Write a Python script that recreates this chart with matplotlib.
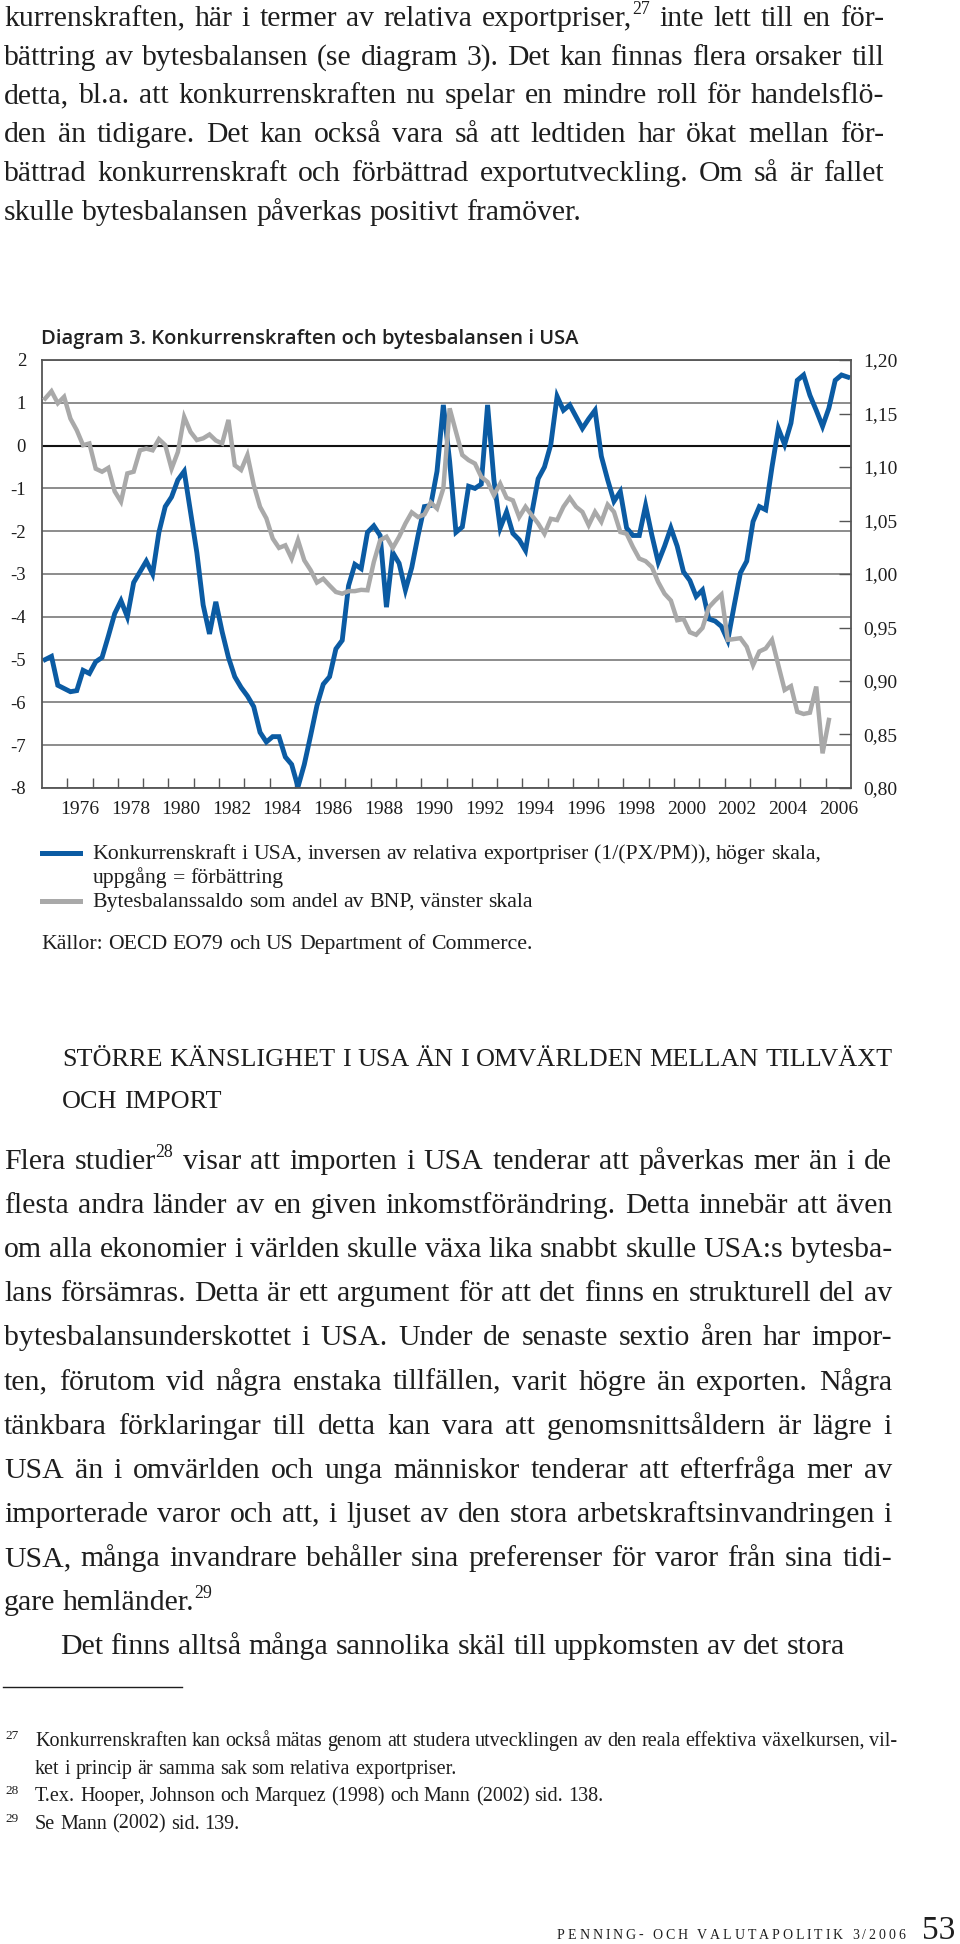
"""
Page 53 de Penning- och valutapolitik 3/2006 : texte courant et
diagramme 3 (konkurrenskraft et bytesbalans aux USA).
"""

import matplotlib

matplotlib.use("Agg")
import matplotlib.pyplot as plt
import numpy as np
import pandas as pd
from matplotlib.lines import Line2D
from matplotlib.ticker import FuncFormatter

# Données trimestrielles lues sur le diagramme
# Konkurrenskraft i USA (1/(PX/PM)), échelle de droite, 1975T1 - 2006T4
konkurrenskraft = [
    0.920, 0.923, 0.896, 0.893, 0.890, 0.891, 0.910, 0.907, 0.918, 0.922,
    0.942, 0.963, 0.975, 0.960, 0.992, 1.002, 1.012, 1.000, 1.039, 1.063,
    1.072, 1.088, 1.096, 1.058, 1.020, 0.971, 0.944, 0.974, 0.946, 0.922,
    0.904, 0.894, 0.886, 0.876, 0.852, 0.843, 0.848, 0.848, 0.829, 0.822,
    0.801, 0.822, 0.849, 0.877, 0.897, 0.904, 0.930, 0.938, 0.989, 1.009,
    1.005, 1.039, 1.045, 1.036, 0.969, 1.020, 1.010, 0.985, 1.006, 1.036,
    1.063, 1.064, 1.096, 1.158, 1.105, 1.039, 1.044, 1.082, 1.080, 1.084,
    1.158, 1.088, 1.043, 1.058, 1.038, 1.032, 1.022, 1.057, 1.089, 1.100,
    1.121, 1.166, 1.153, 1.158, 1.147, 1.136, 1.145, 1.153, 1.110, 1.088,
    1.068, 1.077, 1.043, 1.036, 1.036, 1.064, 1.036, 1.011, 1.026, 1.043,
    1.026, 1.002, 0.994, 0.979, 0.985, 0.958, 0.956, 0.951, 0.938, 0.970,
    1.001, 1.012, 1.049, 1.063, 1.060, 1.100, 1.136, 1.121, 1.141, 1.181,
    1.186, 1.167, 1.153, 1.138, 1.155, 1.181, 1.186, 1.184,
]
# Bytesbalanssaldo, % av BNP, échelle de gauche, 1975T1 - 2006T1
bytesbalans = [
    1.10, 1.27, 0.99, 1.14, 0.63, 0.36, 0.01, 0.05, -0.54, -0.61,
    -0.52, -1.07, -1.31, -0.65, -0.61, -0.11, -0.07, -0.11, 0.15, 0.01,
    -0.54, -0.15, 0.67, 0.32, 0.13, 0.17, 0.26, 0.12, 0.05, 0.60,
    -0.46, -0.57, -0.22, -0.92, -1.43, -1.70, -2.17, -2.39, -2.33, -2.64,
    -2.21, -2.68, -2.91, -3.20, -3.11, -3.27, -3.42, -3.46, -3.40, -3.40,
    -3.37, -3.38, -2.72, -2.21, -2.13, -2.39, -2.13, -1.82, -1.56, -1.67,
    -1.61, -1.33, -1.47, -1.00, 0.87, 0.32, -0.22, -0.34, -0.42, -0.73,
    -0.85, -1.16, -0.89, -1.22, -1.28, -1.67, -1.43, -1.63, -1.82, -2.06,
    -1.71, -1.74, -1.43, -1.22, -1.43, -1.55, -1.86, -1.55, -1.78, -1.38,
    -1.55, -2.02, -2.06, -2.37, -2.64, -2.70, -2.84, -3.19, -3.46, -3.62,
    -4.08, -4.05, -4.36, -4.42, -4.26, -3.78, -3.62, -3.48, -4.54, -4.52,
    -4.50, -4.70, -5.13, -4.81, -4.74, -4.54, -5.13, -5.71, -5.62, -6.22,
    -6.27, -6.24, -5.63, -7.19, -6.41,
]

graduations_gauche = [2, 1, 0, -1, -2, -3, -4, -5, -6, -7, -8]
graduations_droite = [1.20, 1.15, 1.10, 1.05, 1.00, 0.95, 0.90, 0.85, 0.80]
annees_ticks = list(range(1976, 2007))
annees_etiquettes = [1976, 1978, 1980, 1982, 1984, 1986, 1988, 1990,
                     1992, 1994, 1996, 1998, 2000, 2002, 2004, 2006]

titre = "Diagram 3. Konkurrenskraften och bytesbalansen i USA"
legende_bleu = ["Konkurrenskraft i USA, inversen av relativa exportpriser (1/(PX/PM)), höger skala,",
                "uppgång = förbättring"]
legende_gris = "Bytesbalanssaldo som andel av BNP, vänster skala"
sources = "Källor: OECD EO79 och US Department of Commerce."

paragraphe_haut = [
    "kurrenskraften, här i termer av relativa exportpriser,^27 inte lett till en för-",
    "bättring av bytesbalansen (se diagram 3). Det kan finnas flera orsaker till",
    "detta, bl.a. att konkurrenskraften nu spelar en mindre roll för handelsflö-",
    "den än tidigare. Det kan också vara så att ledtiden har ökat mellan för-",
    "bättrad konkurrenskraft och förbättrad exportutveckling. Om så är fallet",
    "skulle bytesbalansen påverkas positivt framöver.",
]
intertitre = ["STÖRRE KÄNSLIGHET I USA ÄN I OMVÄRLDEN MELLAN TILLVÄXT", "OCH IMPORT"]
paragraphe_bas = [
    "Flera studier^28 visar att importen i USA tenderar att påverkas mer än i de",
    "flesta andra länder av en given inkomstförändring. Detta innebär att även",
    "om alla ekonomier i världen skulle växa lika snabbt skulle USA:s bytesba-",
    "lans försämras. Detta är ett argument för att det finns en strukturell del av",
    "bytesbalansunderskottet i USA. Under de senaste sextio åren har impor-",
    "ten, förutom vid några enstaka tillfällen, varit högre än exporten. Några",
    "tänkbara förklaringar till detta kan vara att genomsnittsåldern är lägre i",
    "USA än i omvärlden och unga människor tenderar att efterfråga mer av",
    "importerade varor och att, i ljuset av den stora arbetskraftsinvandringen i",
    "USA, många invandrare behåller sina preferenser för varor från sina tidi-",
    "gare hemländer.^29",
]
derniere_ligne = "Det finns alltså många sannolika skäl till uppkomsten av det stora"
notes = [
    ("27", ["Konkurrenskraften kan också mätas genom att studera utvecklingen av den reala effektiva växelkursen, vil-",
            "ket i princip är samma sak som relativa exportpriser."]),
    ("28", ["T.ex. Hooper, Johnson och Marquez (1998) och Mann (2002) sid. 138."]),
    ("29", ["Se Mann (2002) sid. 139."]),
]
pied = "PENNING- OCH VALUTAPOLITIK 3/2006"
numero_page = "53"

BLEU = "#0b5ba3"
GRIS = "#a9a9a9"
NOIR = "#1e1e1e"
CADRE = "#555555"

plt.rcParams["font.family"] = ["Liberation Serif", "DejaVu Serif"]
plt.rcParams["axes.unicode_minus"] = False

L, H, DPI = 960, 1944, 100
fig = plt.figure(figsize=(L / DPI, H / DPI), dpi=DPI)
renderer = fig.canvas.get_renderer()


def largeur(txt, taille, **kw):
    """Largeur en pixels d'un texte (les espaces valent 0,25 em)."""
    if txt.strip() == "":
        return 0.25 * taille * DPI / 72 * len(txt)
    t = fig.text(0, 0, txt, fontsize=taille, **kw)
    w = t.get_window_extent(renderer).width
    t.remove()
    return w


def ligne(x0, y, texte, taille, x1=None, **kw):
    """Écrit une ligne (justifiée si x1 est donné); '^' marque un exposant."""
    mots = []
    for m in texte.split(" "):
        if "^" in m:
            base, sup = m.split("^")
            morceaux = [(base, taille, 0.0), (sup, taille * 0.6, taille * 0.4 * DPI / 72)]
        else:
            morceaux = [(m, taille, 0.0)]
        mots.append([(s, t, dy, largeur(s, t, **kw)) for s, t, dy in morceaux if s])
    total = sum(m[3] for mot in mots for m in mot)
    esp = 0.25 * taille * DPI / 72
    if x1 is not None and len(mots) > 1:
        esp = (x1 - x0 - total) / (len(mots) - 1)
    x = x0
    for mot in mots:
        for s, t, dy, w in mot:
            fig.text(x / L, 1 - (y - dy) / H, s, fontsize=t, va="baseline",
                     ha="left", color=NOIR, **kw)
            x += w
        x += esp


def texte_espace(x0, x1, y, texte, taille):
    """Texte à lettres espacées entre x0 et x1."""
    largeurs = [largeur(c, taille) for c in texte]
    pas = (x1 - x0 - sum(largeurs)) / (len(texte) - 1)
    x = x0
    for c, w in zip(texte, largeurs):
        if c != " ":
            fig.text(x / L, 1 - y / H, c, fontsize=taille, va="baseline",
                     ha="left", color=NOIR)
        x += w + pas


# Texte du haut
for i, l in enumerate(paragraphe_haut):
    fin = 884 if i < len(paragraphe_haut) - 1 else None
    ligne(4, 26 + i * 38.7, l, 21.3, fin)

# Diagramme
fig.text(41 / L, 1 - 344 / H, titre, fontsize=14.5, fontfamily=["Open Sans", "DejaVu Sans"],
         fontweight="semibold", color="#222222", va="baseline")

ax = fig.add_axes([42 / L, 1 - 788 / H, (851 - 42) / L, (788 - 360) / H])
ax2 = ax.twinx()

kv_bleu = pd.period_range("1975Q1", periods=len(konkurrenskraft), freq="Q")
kv_gris = pd.period_range("1975Q1", periods=len(bytesbalans), freq="Q")
t_bleu = kv_bleu.year + (kv_bleu.quarter - 0.5) / 4
t_gris = kv_gris.year + (kv_gris.quarter - 0.5) / 4

# la courbe bleue suit l'échelle de droite mais reste sous la grise
ax.plot(t_bleu, konkurrenskraft, color=BLEU, lw=3.5, transform=ax2.transData,
        solid_joinstyle="miter", zorder=2)
ax.plot(t_gris, bytesbalans, color=GRIS, lw=3.2, solid_joinstyle="miter", zorder=3)
ax.axhline(0, color="#111111", lw=1.5, zorder=1.5)

ax.set_xlim(1975, 2007)
ax.set_ylim(-8, 2)
ax2.set_ylim(0.80, 1.20)

ax.set_yticks(graduations_gauche)
ax.yaxis.grid(True, color="#6e6e6e", lw=1.1)
ax.set_axisbelow(True)
ax.tick_params(axis="y", length=0, pad=11.5, labelsize=13.5, labelcolor=NOIR)

ax.set_xticks(annees_ticks)
ax.set_xticklabels([])
ax.set_xticks([a + 0.5 for a in annees_etiquettes], minor=True,
              labels=[str(a) for a in annees_etiquettes])
ax.tick_params(axis="x", which="major", direction="in", length=7.2, width=1, color=CADRE)
ax.tick_params(axis="x", which="minor", length=0, pad=9, labelsize=14, labelcolor=NOIR)

ax2.set_yticks(graduations_droite)
ax2.yaxis.set_major_formatter(FuncFormatter(lambda v, p: f"{v:.2f}".replace(".", ",")))
ax2.tick_params(axis="y", direction="in", length=9, width=1, color=CADRE, pad=8.5,
                labelsize=14, labelcolor=NOIR)

for s in ax.spines.values():
    s.set_color(CADRE)
    s.set_linewidth(1.3)
for s in ax2.spines.values():
    s.set_visible(False)

# Légende et sources
fig.add_artist(Line2D([42 / L, 80 / L], [1 - 853 / H] * 2, color=BLEU, lw=3.6))
fig.add_artist(Line2D([42 / L, 80 / L], [1 - 901 / H] * 2, color=GRIS, lw=3.6))
ligne(92.5, 859, legende_bleu[0], 15.7)
ligne(92.5, 883, legende_bleu[1], 15.7)
ligne(92.5, 907, legende_gris, 15.7)
ligne(41, 949, sources, 15.7)

# Intertitre et texte du bas
ligne(62, 1066, intertitre[0], 18.8)
ligne(62, 1108, intertitre[1], 18.8)
for i, l in enumerate(paragraphe_bas):
    fin = 892 if i < len(paragraphe_bas) - 1 else None
    ligne(4, 1169 + i * 44.1, l, 21.5, fin)
ligne(60, 1169 + len(paragraphe_bas) * 44.1, derniere_ligne, 21.5)

# Notes de bas de page
fig.add_artist(Line2D([3 / L, 182 / L], [1 - 1687 / H] * 2, color=NOIR, lw=1.0))
y = 1746
for num, lignes in notes:
    fig.text(5 / L, 1 - (y - 7) / H, num, fontsize=9.5, va="baseline", color=NOIR)
    for j, l in enumerate(lignes):
        fin = 897 if j < len(lignes) - 1 else None
        ligne(35, y, l, 14.5, fin)
        y += 27.5

# Pied de page
texte_espace(557, 905, 1939, pied, 10)
fig.text(955 / L, 1 - 1939 / H, numero_page, fontsize=24, ha="right", va="baseline", color=NOIR)

fig.savefig("out.png", dpi=DPI)
plt.close(fig)
